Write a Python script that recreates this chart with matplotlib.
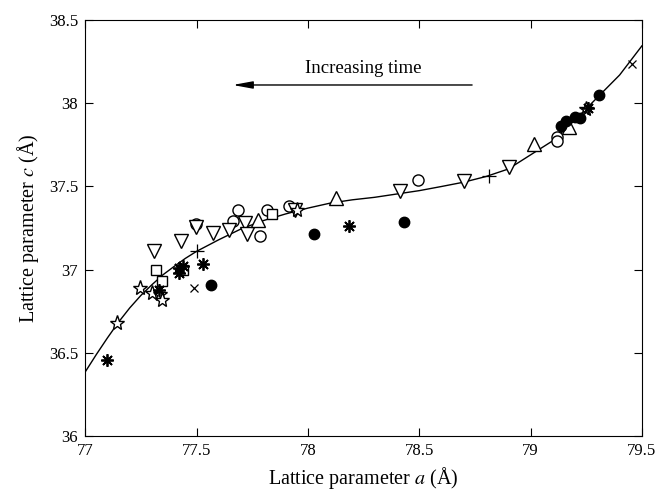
import numpy as np
import matplotlib
matplotlib.use("Agg")
import matplotlib.pyplot as plt
from matplotlib.ticker import FormatStrFormatter

plt.rcParams['font.family'] = ['Liberation Serif', 'DejaVu Serif']
plt.rcParams['mathtext.fontset'] = 'stix'

# fitted curve
curve_a = [77.0, 77.05, 77.1, 77.15, 77.2, 77.25, 77.3, 77.35, 77.4, 77.45, 77.5,
           77.6, 77.7, 77.8, 77.9, 78.0, 78.1, 78.2, 78.3, 78.4, 78.5,
           78.6, 78.7, 78.8, 78.9, 79.0, 79.1, 79.2, 79.3, 79.4, 79.5]
curve_c = [36.385, 36.49, 36.59, 36.685, 36.77, 36.845, 36.91, 36.97, 37.02, 37.068, 37.11,
           37.18, 37.245, 37.295, 37.335, 37.37, 37.40, 37.42, 37.435, 37.455, 37.475,
           37.50, 37.526, 37.56, 37.605, 37.69, 37.775, 37.90, 38.035, 38.17, 38.345]

# measured points, by marker kind
down_a = [77.307, 77.43, 77.498, 77.576, 77.648, 77.718, 77.728, 77.943, 78.415, 78.70, 78.905]
down_c = [37.11, 37.17, 37.255, 37.22, 37.24, 37.28, 37.215, 37.36, 37.47, 37.535, 37.62]

up_a = [77.778, 78.127, 79.015, 79.174]
up_c = [37.30, 37.43, 37.755, 37.86]

sq_a = [77.32, 77.344, 77.44, 77.838]
sq_c = [37.00, 36.93, 37.00, 37.337]

circ_a = [77.498, 77.688, 77.666, 77.785, 77.818, 77.917, 78.496, 79.117, 79.117]
circ_c = [37.275, 37.357, 37.29, 37.205, 37.357, 37.38, 37.538, 37.80, 37.773]

fill_a = [77.564, 78.028, 78.433, 79.135, 79.159, 79.20, 79.22, 79.308]
fill_c = [36.91, 37.217, 37.285, 37.863, 37.893, 37.92, 37.91, 38.05]

star_a = [77.145, 77.247, 77.30, 77.337, 77.344, 77.95, 79.25]
star_c = [36.68, 36.89, 36.86, 36.855, 36.82, 37.36, 37.965]

ast_a = [77.097, 77.33, 77.42, 77.42, 77.44, 77.528, 78.186, 79.26]
ast_c = [36.46, 36.88, 36.98, 37.01, 37.025, 37.036, 37.265, 37.97]

x_a = [77.49, 79.454]
x_c = [36.89, 38.235]

plus_a = [77.50, 78.815]
plus_c = [37.11, 37.565]

fig = plt.figure(figsize=(6.55, 4.9), dpi=100)
ax = fig.add_axes([0.13, 0.11, 0.85, 0.849])

ax.plot(curve_a, curve_c, color='black', lw=1.0, zorder=1)

op = dict(ls='none', mfc='white', mec='black', mew=1.0, zorder=3)
ax.plot(circ_a, circ_c, marker='o', ms=8, **op)
ax.plot(down_a, down_c, marker='v', ms=9.5, **op)
ax.plot(up_a, up_c, marker='^', ms=9.5, **op)
ax.plot(sq_a, sq_c, marker='s', ms=7.5, **op)
ax.plot(star_a, star_c, marker='*', ms=11, **op)
ax.plot(fill_a, fill_c, ls='none', marker='o', ms=7.5, mfc='black', mec='black', zorder=3)
ax.plot(ast_a, ast_c, ls='none', marker=(8, 2, 0), ms=9, mec='black', mew=1.3, zorder=3)
ax.plot(x_a, x_c, ls='none', marker='x', ms=5.5, mec='black', mew=0.9, zorder=3)
ax.plot(plus_a, plus_c, ls='none', marker='+', ms=10, mec='black', mew=0.9, zorder=3)

ax.annotate('', xy=(77.65, 38.11), xytext=(78.75, 38.11),
            arrowprops=dict(arrowstyle='-|>,head_length=1.2,head_width=0.22',
                            color='black', lw=1.0))
ax.text(78.25, 38.21, 'Increasing time', ha='center', va='center', fontsize=13.5)

ax.set_xlim(77, 79.5)
ax.set_ylim(36, 38.5)
ax.set_xticks([77, 77.5, 78, 78.5, 79, 79.5])
ax.set_yticks([36, 36.5, 37, 37.5, 38, 38.5])
ax.xaxis.set_major_formatter(FormatStrFormatter('%g'))
ax.yaxis.set_major_formatter(FormatStrFormatter('%g'))
ax.tick_params(direction='in', length=6, top=True, right=True, labelsize=12, pad=5)
ax.set_xlabel('Lattice parameter $a$ (Å)', fontsize=14.5, labelpad=4)
ax.set_ylabel('Lattice parameter $c$ (Å)', fontsize=14.5, labelpad=6)

fig.savefig('out.png', dpi=100)
